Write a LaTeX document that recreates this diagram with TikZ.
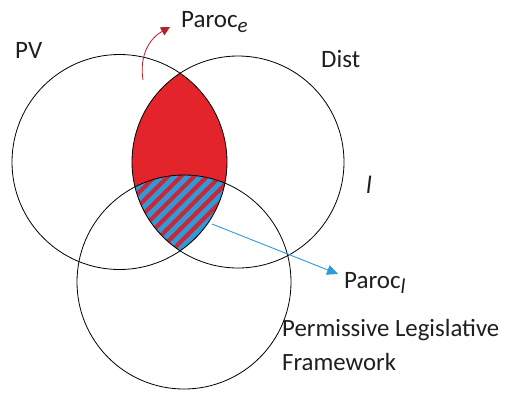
\documentclass[tikz,border=0pt]{standalone}
\usepackage{fontspec}
\setmainfont{Carlito}
\usetikzlibrary{arrows.meta}
\definecolor{lensred}{HTML}{E3242B}
\definecolor{stripered}{HTML}{CC2738}
\definecolor{stripeblue}{HTML}{2E9AD6}
\definecolor{arrowred}{HTML}{B8202A}
\definecolor{txt}{HTML}{1E1E1E}
\tikzset{
  ring/.style={draw=black, line width=0.8pt},
  lbl/.style={anchor=base west, inner sep=0pt, text=txt, font=\fontsize{25}{29}\selectfont},
  biglbl/.style={anchor=base west, inner sep=0pt, text=txt, align=left, font=\fontsize{24.8}{34}\selectfont},
  redarrow/.style={draw=arrowred, line width=0.8pt, -{Triangle[length=9pt,width=9pt]}},
  bluearrow/.style={draw=stripeblue, line width=0.9pt, -{Triangle[length=11pt,width=10pt]}}
}
\newcommand{\subit}[1]{\raisebox{-5pt}{\fontsize{21}{21}\selectfont\itshape #1}}
\begin{document}
\begin{tikzpicture}[x=1pt,y=-1pt]
\useasboundingbox (0,0) rectangle (505,408);
\coordinate (cL) at (119.5,162);
\coordinate (cR) at (238,162);
\coordinate (cB) at (184,282);
% red lens
\begin{scope}
  \clip (cL) circle (107.5);
  \fill[lensred] (cR) circle (106);
\end{scope}
% hatched triple intersection
\begin{scope}
  \clip (cL) circle (107.5);
  \clip (cR) circle (106);
  \clip (cB) circle (107);
  \fill[stripered] (100,150) rectangle (260,270);
  \foreach \k in {-30,...,30} {
    \draw[stripeblue, line width=4.8pt] ({180+\k*13-100},{210+100}) -- ({180+\k*13+100},{210-100});
  }
\end{scope}
% circles
\draw[ring] (cL) circle (107.5);
\draw[ring] (cR) circle (106);
\draw[ring] (cB) circle (107);
% labels
\node[lbl] (pv) at (15,58) {PV};
\node[lbl] (dist) at (321,67) {Dist};
\node[lbl] (parE) at (181,27) {Paroc\subit{e}};
\node[lbl] (parL) at (344,288) {Paroc\subit{l}};
\node[lbl] (stray) at (366,193) {\itshape l};
\node[biglbl] (plf) at (282,370) {Permissive Legislative\\Framework};
% arrows
\coordinate (rs) at (143,80);
\coordinate (re) at (170,27);
\draw[redarrow] (rs) .. controls (139,55) and (150,38) .. (re);
\coordinate (bs) at (212,224);
\coordinate (be) at (338,274);
\draw[bluearrow] (bs) -- (be);
\end{tikzpicture}
\end{document}
